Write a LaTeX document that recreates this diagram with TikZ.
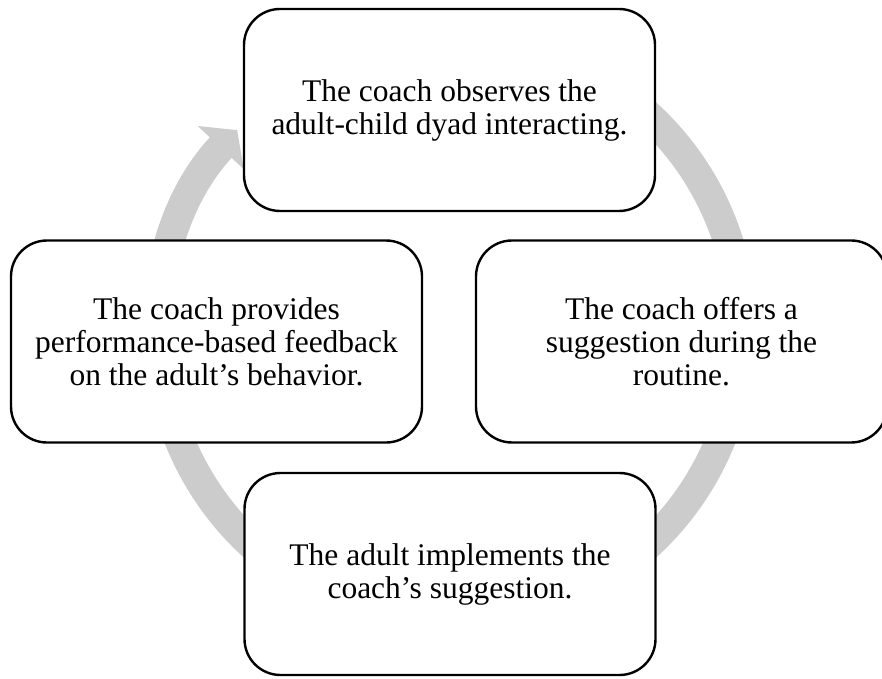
\documentclass[tikz,border=0pt]{standalone}
\usepackage{fontspec}
\setmainfont{Liberation Serif}
\usetikzlibrary{arrows.meta}
\definecolor{ringgray}{RGB}{204,204,204}

\begin{document}
\begin{tikzpicture}[x=1pt,y=1pt,
	stagebox/.style={draw=black,line width=2.4pt,rounded corners=36pt,fill=white,
		minimum width=411pt,minimum height=202pt,align=center,
		font=\fontsize{31.5}{33}\selectfont}]
	\useasboundingbox (0,0) rectangle (882,678);
	\coordinate (hub) at (450,348);
	\draw[ringgray,line width=30pt,-{Triangle[length=24pt,width=62pt]}]
		(hub) ++(110:292pt) arc[start angle=110,end angle=-223.2,radius=292pt];
	\node[stagebox] (observe) at (449.5,568) {The coach observes the\\adult-child dyad interacting.};
	\node[stagebox] (offer) at (681.5,336.5) {The coach offers a\\suggestion during the\\routine.};
	\node[stagebox] (implement) at (450,104) {The adult implements the\\coach's suggestion.};
	\node[stagebox] (feedback) at (216.5,336.5) {The coach provides\\performance-based feedback\\on the adult's behavior.};
\end{tikzpicture}
\end{document}
